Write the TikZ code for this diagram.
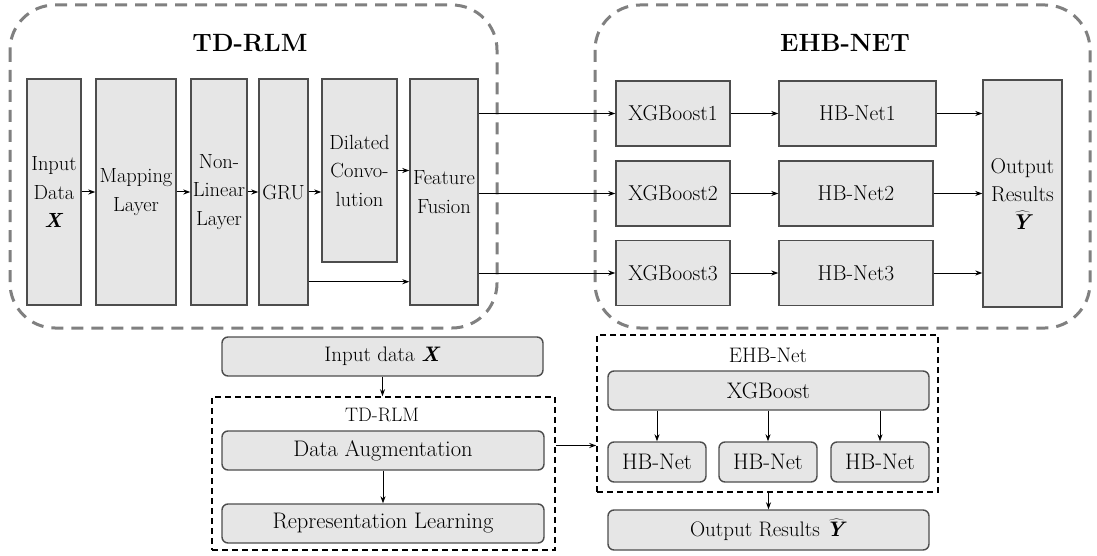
\documentclass[tikz,border=0pt]{standalone}
\usetikzlibrary{arrows.meta}
\definecolor{boxfill}{HTML}{E6E6E6}
\definecolor{boxline}{HTML}{4D4D4D}
\definecolor{outerdash}{HTML}{808080}
\newcommand{\bX}{\textbf{\textit{X}}}
\newcommand{\bYhat}{$\widehat{\textbf{\textit{Y}}}$}
\tikzset{
  box/.style={draw=boxline, fill=boxfill, line width=1.4pt, inner sep=0pt, align=center, font=\fontsize{20.5}{28.5}\selectfont},
  ebox/.style={box, font=\fontsize{21.5}{28}\selectfont},
  rbox/.style={box, rounded corners=6pt, font=\fontsize{22.5}{28}\selectfont},
  outerbox/.style={draw=outerdash, line width=3pt, dash pattern=on 12pt off 8pt, rounded corners=45pt},
  innerbox/.style={draw=black, line width=1.5pt, dash pattern=on 6pt off 4pt, inner sep=0pt},
  title/.style={font=\fontsize{25}{30}\selectfont\bfseries},
  sublabel/.style={font=\fontsize{21}{26}\selectfont},
  arr/.style={-{Stealth[length=7pt,width=5pt]}, line width=1pt},
}
\begin{document}
\begin{tikzpicture}[x=1pt,y=-1pt]
\useasboundingbox (0,0) rectangle (1097,556);
% outer dashed groups
\draw[outerbox] (10,5) rectangle (497,328);
\draw[outerbox] (595,5) rectangle (1090,328);
\node[title] (t1) at (250,43) {TD-RLM};
\node[title] (t2) at (845,43) {EHB-NET};
% TD-RLM blocks
\node[box, minimum width=54pt, minimum height=226pt] (in) at (54,192) {Input\\Data\\\bX};
\node[box, minimum width=80pt, minimum height=226pt] (map) at (136,192) {Mapping\\Layer};
\node[box, minimum width=56pt, minimum height=226pt] (nl) at (219,192) {Non-\\Linear\\Layer};
\node[box, minimum width=49pt, minimum height=226pt] (gru) at (283.5,192) {GRU};
\node[box, minimum width=75pt, minimum height=183pt] (dc) at (359.5,170.5) {Dilated\\Convo-\\lution};
\node[box, minimum width=68pt, minimum height=226pt] (ff) at (444,192) {Feature\\Fusion};
% EHB-NET blocks
\node[ebox, minimum width=114pt, minimum height=65pt] (xg1) at (673,113.5) {XGBoost1};
\node[ebox, minimum width=114pt, minimum height=65pt] (xg2) at (673,193.5) {XGBoost2};
\node[ebox, minimum width=114pt, minimum height=65pt] (xg3) at (673,273) {XGBoost3};
\node[ebox, minimum width=157pt, minimum height=65pt] (hb1) at (857.5,113.5) {HB-Net1};
\node[ebox, minimum width=154pt, minimum height=65pt] (hb2) at (856,193.5) {HB-Net2};
\node[ebox, minimum width=154pt, minimum height=65pt] (hb3) at (856,273) {HB-Net3};
\node[ebox, minimum width=79pt, minimum height=227pt] (out) at (1022.5,193.5) {Output\\Results\\\bYhat};
% arrows top
\draw[arr] (in.east) -- (map.west);
\draw[arr] (map.east) -- (nl.west);
\draw[arr] (nl.east) -- (gru.west);
\draw[arr] (gru.east) -- (gru.east -| dc.west);
\draw[arr] (dc.east) -- (dc.east -| ff.west);
\draw[arr] ([yshift=24pt]gru.south east) -- ([yshift=24pt]ff.south west);
\draw[arr] (ff.east |- xg1.west) -- (xg1.west);
\draw[arr] (ff.east |- xg2.west) -- (xg2.west);
\draw[arr] (ff.east |- xg3.west) -- (xg3.west);
\draw[arr] (xg1.east) -- (xg1.east -| hb1.west);
\draw[arr] (xg2.east) -- (xg2.east -| hb2.west);
\draw[arr] (xg3.east) -- (xg3.east -| hb3.west);
\draw[arr] (hb1.east) -- (hb1.east -| out.west);
\draw[arr] (hb2.east) -- (hb2.east -| out.west);
\draw[arr] (hb3.east) -- (hb3.east -| out.west);
% bottom part
\node[innerbox, minimum width=343pt, minimum height=153pt] (tdbox) at (383.5,473.5) {};
\node[innerbox, minimum width=341pt, minimum height=157pt] (ehbbox) at (767.5,413.5) {};
\node[sublabel, font=\fontsize{19.5}{24}\selectfont] (tdl) at (382,415) {TD-RLM};
\node[sublabel] (ehl) at (768,355) {EHB-Net};
\node[rbox, minimum width=321pt, minimum height=39pt, font=\fontsize{21}{26}\selectfont] (inx) at (382.5,356.5) {Input data \bX};
\node[rbox, minimum width=322pt, minimum height=39pt] (da) at (383,450.5) {Data Augmentation};
\node[rbox, minimum width=322pt, minimum height=39pt] (rl) at (383,523.5) {Representation Learning};
\node[rbox, minimum width=321pt, minimum height=39pt] (xgb) at (768.5,390.5) {XGBoost};
\node[rbox, minimum width=98pt, minimum height=40pt] (hbn1) at (657,462) {HB-Net};
\node[rbox, minimum width=98pt, minimum height=40pt] (hbn2) at (768,462) {HB-Net};
\node[rbox, minimum width=98pt, minimum height=40pt] (hbn3) at (880,462) {HB-Net};
\node[rbox, minimum width=321pt, minimum height=40pt, font=\fontsize{21}{26}\selectfont] (outr) at (768.5,530) {Output Results \bYhat};
\draw[arr, line width=0.8pt] (inx.south) -- (inx.south |- tdbox.north);
\draw[arr, line width=0.8pt] (da.south) -- (rl.north);
\draw[arr, line width=1.3pt] ([yshift=28pt]tdbox.east) -- ([yshift=28pt]tdbox.east -| ehbbox.west);
\draw[arr, line width=0.8pt] (hbn1.north |- xgb.south) -- (hbn1.north);
\draw[arr, line width=0.8pt] (hbn2.north |- xgb.south) -- (hbn2.north);
\draw[arr, line width=0.8pt] (hbn3.north |- xgb.south) -- (hbn3.north);
\draw[arr, line width=0.8pt] (ehbbox.south -| outr.north) -- (outr.north);
\end{tikzpicture}
\end{document}
